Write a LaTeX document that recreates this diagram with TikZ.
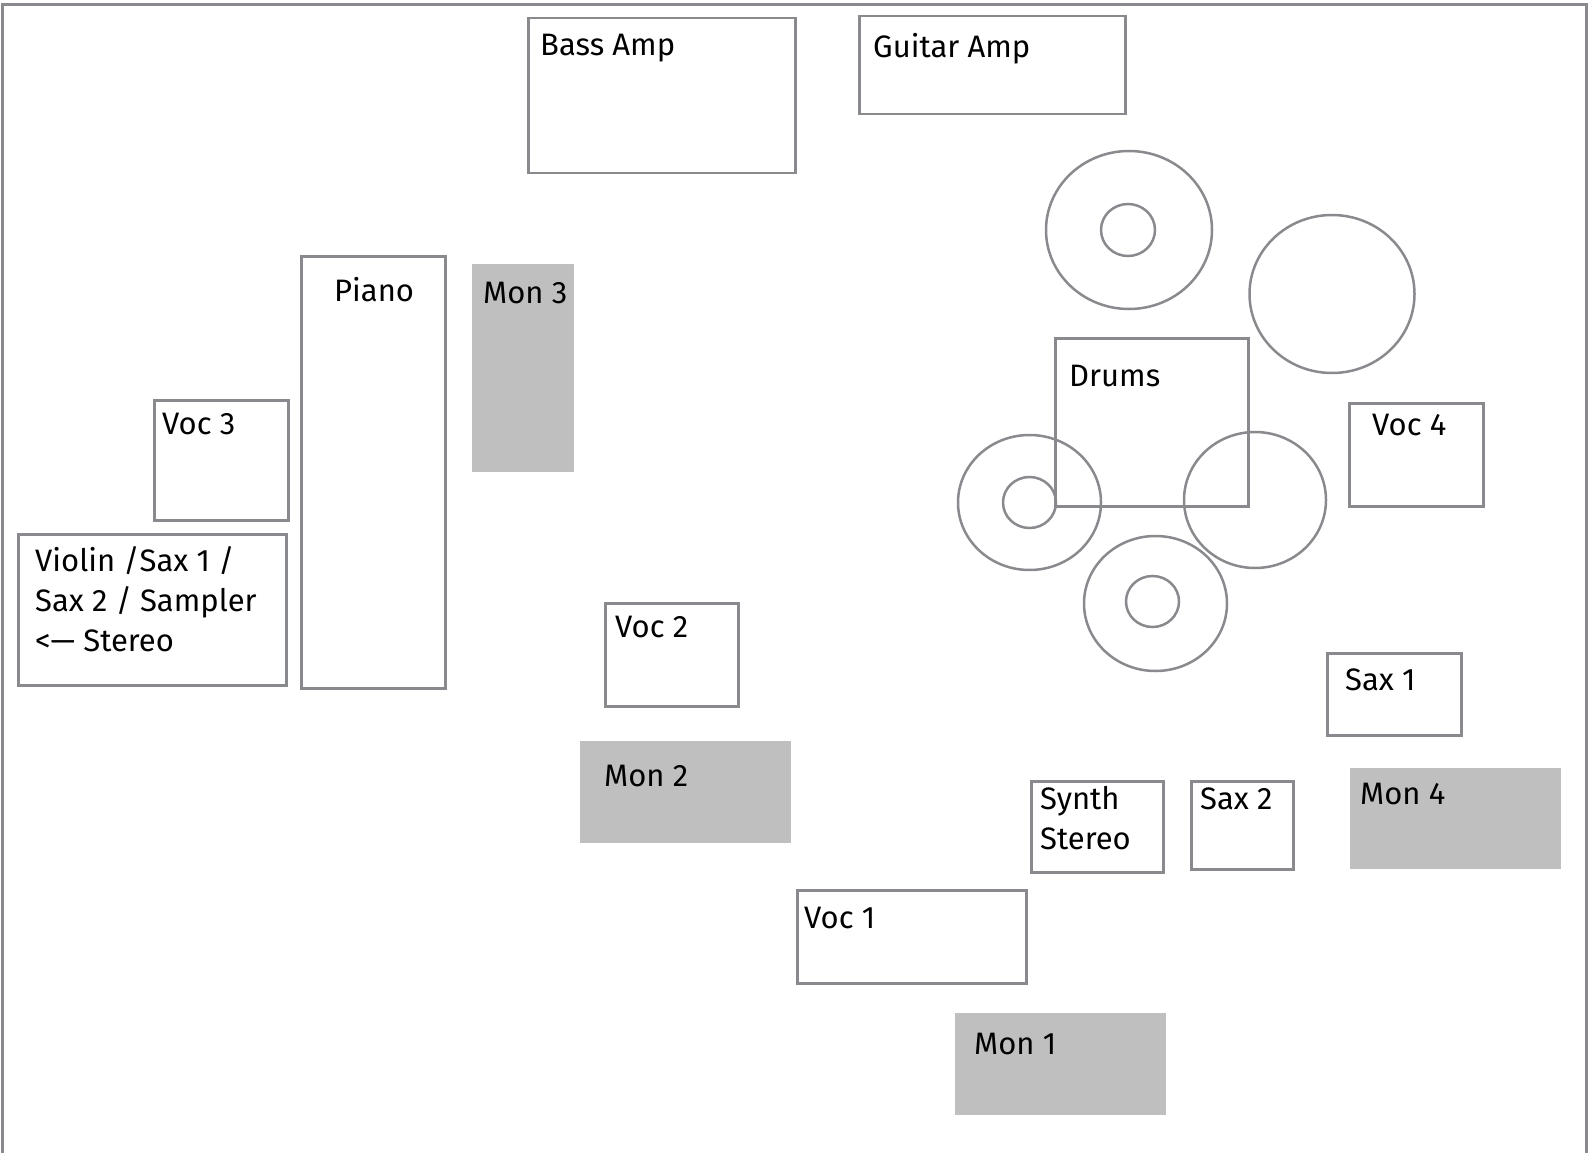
\documentclass[tikz,border=0pt]{standalone}
\usepackage{fontspec}
\setmainfont{Fira Sans}
\definecolor{edge}{HTML}{888A8E}
\definecolor{monfill}{HTML}{BFBFBF}
\newcommand{\stack}[1]{\begin{tabular}[t]{@{}l@{}}#1\end{tabular}}
\begin{document}
\begin{tikzpicture}[x=1pt,y=-1pt,
  box/.style={draw=edge,line width=2.5pt,fill=white,inner sep=0pt,anchor=north west},
  mon/.style={fill=monfill,inner sep=0pt,anchor=north west},
  ring/.style={draw=edge,line width=2.5pt},
  txt/.style={anchor=base west,inner sep=0pt,font=\fontsize{31}{40}\selectfont},
  frame/.style={draw=edge,line width=3pt}]
\useasboundingbox (0,0) rectangle (1588,1153);
\draw[frame] (2,1160) -- (2,5) -- (1586,5) -- (1586,1160);
% boxes
\node[box,minimum width=267pt,minimum height=155pt] (bass) at (527,17) {};
\node[box,minimum width=266pt,minimum height=98pt] (guitar) at (858,15) {};
\node[box,minimum width=144pt,minimum height=432pt] (piano) at (300,255) {};
\node[mon,minimum width=102pt,minimum height=208pt] (mon3) at (472,264) {};
\node[box,minimum width=134pt,minimum height=120pt] (voc3) at (153,399) {};
\node[box,minimum width=268pt,minimum height=151pt] (violin) at (17,533) {};
\node[box,minimum width=133pt,minimum height=103pt] (voc2) at (604,602) {};
\node[mon,minimum width=211pt,minimum height=102pt] (mon2) at (580,741) {};
\node[box,minimum width=229pt,minimum height=93pt] (voc1) at (796,889) {};
\node[mon,minimum width=211pt,minimum height=102pt] (mon1) at (955,1013) {};
\node[box,minimum width=132pt,minimum height=91pt] (synth) at (1030,780) {};
\node[box,minimum width=102pt,minimum height=88pt] (sax2) at (1190,780) {};
\node[mon,minimum width=211pt,minimum height=101pt] (mon4) at (1350,768) {};
\node[box,minimum width=134pt,minimum height=82pt] (sax1) at (1326,652) {};
\node[box,minimum width=134pt,minimum height=103pt] (voc4) at (1348,402) {};
% drum kit
\draw[ring] (1129,230) ellipse [x radius=83, y radius=79];
\draw[ring] (1128,230) ellipse [x radius=27, y radius=26];
\draw[ring] (1332,294) ellipse [x radius=82.5, y radius=79];
\node[draw=edge,line width=2.5pt,inner sep=0pt,anchor=north west,minimum width=193pt,minimum height=168pt] (drums) at (1054,337) {};
\draw[ring] (1029.5,502.5) ellipse [x radius=71.5, y radius=67.5];
\draw[ring] (1029.5,502.5) ellipse [x radius=26.5, y radius=25.5];
\draw[ring] (1255,500) ellipse [x radius=71, y radius=68];
\draw[ring] (1155.5,603.5) ellipse [x radius=71.5, y radius=67.5];
\draw[ring] (1152.5,601.5) ellipse [x radius=26.5, y radius=25.5];
% labels
\node[txt] (tbass) at (540,56) {Bass Amp};
\node[txt] (tguitar) at (873,58) {Guitar Amp};
\node[txt] (tpiano) at (334,301) {Piano};
\node[txt] (tmon3) at (483,303) {Mon 3};
\node[txt] (tvoc3) at (162,434) {Voc 3};
\node[txt] (tviolin) at (35,571) {\stack{Violin /Sax 1 /\\Sax 2 / Sampler\\<— Stereo}};
\node[txt] (tvoc2) at (615,637) {Voc 2};
\node[txt] (tmon2) at (604,786) {Mon 2};
\node[txt] (tvoc1) at (804,928) {Voc 1};
\node[txt] (tmon1) at (974,1054) {Mon 1};
\node[txt] (tdrums) at (1069,386) {Drums};
\node[txt] (tvoc4) at (1372,435) {Voc 4};
\node[txt] (tsax1) at (1345,690) {Sax 1};
\node[txt] (tsynth) at (1040,809) {\stack{Synth\\Stereo}};
\node[txt] (tsax2) at (1200,809) {Sax 2};
\node[txt] (tmon4) at (1360,804) {Mon 4};
\end{tikzpicture}
\end{document}
